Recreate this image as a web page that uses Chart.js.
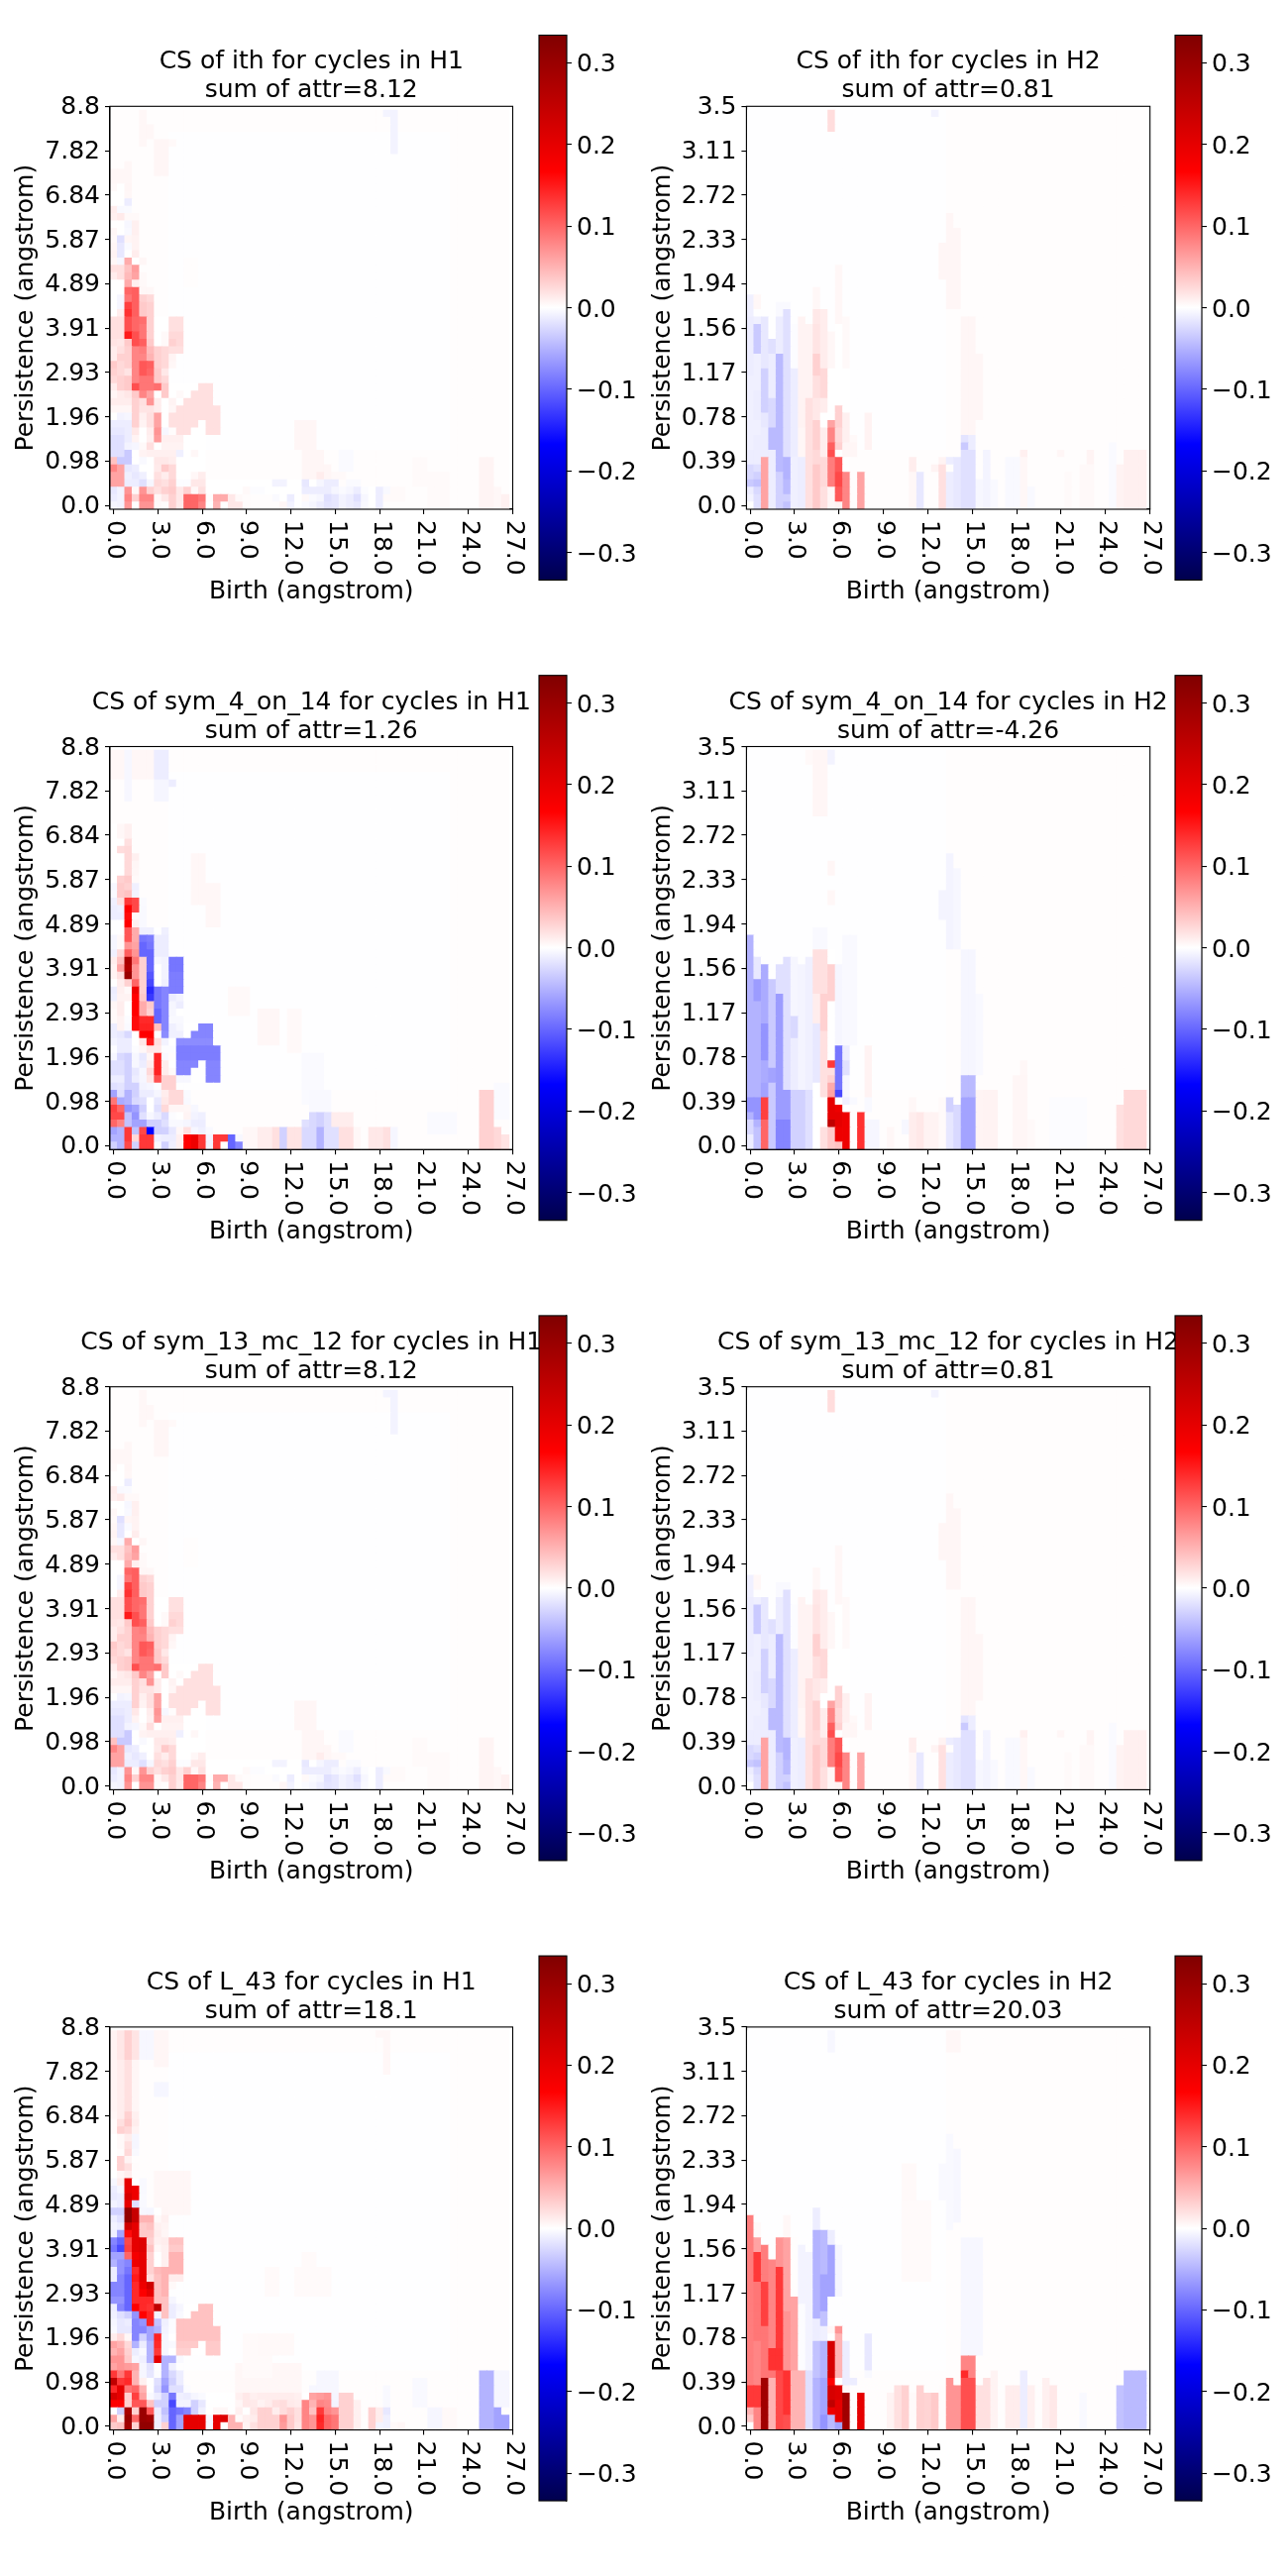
<!DOCTYPE html>
<html><head><meta charset="utf-8">
<script src="https://cdn.jsdelivr.net/npm/chart.js@4/dist/chart.umd.js"></script>
<style>html,body{margin:0;padding:0;background:#fff}#wrap{position:relative;width:1300px;height:2600px;overflow:hidden}canvas{position:absolute}</style>
</head><body><div id="wrap"></div>
<script>
// ---- axis labels ----
const birthLabels=['0.0','3.0','6.0','9.0','12.0','15.0','18.0','21.0','24.0','27.0'];
const persistH1=['0.0','0.98','1.96','2.93','3.91','4.89','5.87','6.84','7.82','8.8'];
const persistH2=['0.0','0.39','0.78','1.17','1.56','1.94','2.33','2.72','3.11','3.5'];
const tickIndex=[0,6,12,18,24,30,36,42,48,54];
const barTicks=[-0.3,-0.2,-0.1,0,0.1,0.2,0.3];
const colorLimit=0.334;
const gridSize=54;
const baseValue=0.001;

// ---- cell values: rects are [colFrom,colTo,rowFrom,rowTo,value]; rows are [row, value at col 0, col 1, ...] (row 0 at the bottom) ----
const ithH1Rects=[
[8,45,8,50,-.0007],[4,4,49,53,.005],[5,5,50,51,.005],[6,7,45,49,.006],[8,8,49,49,.004],[0,2,44,45,.005],[2,2,42,46,.005],
[37,38,53,53,-.007],[38,38,48,53,-.008],
[25,27,8,11,.006],[26,28,6,7,.006],[26,29,4,5,.006],[28,28,4,4,.012],[27,29,3,3,.004],
[31,32,5,7,-.003],[30,31,3,4,.004],
[50,51,0,6,.007],[52,52,0,2,.005],[53,53,0,1,.009],[43,45,0,4,.003],[41,42,3,6,.003],[37,39,1,2,.003],
[10,11,30,33,.001],
];
const ithH1Rows=[
[0,-.006,-.008,.07,0,.07,.07,.004,.002,.03,.014,.1,.1,.08,0,.05,0,.015,.015,.002,.001,.001,.001,.001,.006,-.008,0,-.003,-.006,-.012,-.018,-.016,-.008,-.012,-.015,-.004,0,-.012],
[1,-.012,-.008,.08,.03,.08,.08,.005,.015,.03,.015,.1,.1,.09,.002,.055,.055,.015,.004,.002,.001,.001,.001,-.003,0,-.012,0,.004,-.003,-.006,-.02,-.016,-.008,-.012,-.02,-.005,0,-.012],
[2,-.015,-.008,.07,.005,.07,.03,.02,.03,.035,.015,.03,.005,.02,0,0,0,0,0,.004,-.002,-.002,0,0,0,0,0,-.012,-.012,-.012,-.012,-.006,-.003,-.006,-.012,-.002,0,-.012,-.004],
[3,.06,.06,-.012,-.012,-.02,-.006,.025,.02,.03,-.002,-.002,.015,.015,0,0,0,0,0,0,0,0,0,-.008,-.008,0,0,-.015,0,-.006,-.012,-.012,.002,-.003,-.003],
[4,.06,.06,-.01,-.015,-.01,0,.02,.012,.025,0,0,.005,.012],
[5,.08,.06,-.015,-.012,0,0,.014,.035,.025,0,0,0,0],
[6,.04,-.035,-.035,0,-.004,0,.015,.015,.012,0,0,0,0],
[7,-.02,-.02,-.035,0,.008,.01,.01,.01,.01,-.01,0,.005,0],
[8,-.02,-.02,-.008,-.006,.004,.02,0,.008,.008,.008,0,0,0],
[9,-.02,-.02,-.012,.008,0,.01,.065,.01,.01,.01,0,0,0],
[10,-.015,-.015,-.012,.015,0,.012,.07,-.005,.002,.02,.02,0,0,.02,.02],
[11,-.012,-.012,-.012,.03,.008,.02,.06,0,.02,.02,.02,.02,0,.02,.02],
[12,0,-.008,-.006,.03,.01,.02,.06,0,.02,.02,.02,.02,.02,.02,.02],
[13,.006,.006,.006,.03,.018,.018,.012,0,.006,.02,.02,.02,.02,.02,.02],
[14,.012,.012,.012,.03,.02,.07,.012,0,.008,0,.02,.02,.02,.02],
[15,.006,.012,.016,.035,.08,.06,0,.035,0,.004,0,.02,.02,.02],
[16,.012,.03,.035,.115,.09,.09,.095,.035,0,0,0,0,.02,.02],
[17,.025,.03,.035,.08,.09,.09,.035,.025],
[18,.03,.025,.018,.08,.11,.1,.035,.015],
[19,.035,.025,.03,.08,.11,.105,.03,.025,.005],
[20,.012,.03,.03,.08,.08,.05,.03,.025,.007],
[21,.012,.02,.03,.08,.085,.045,.03,.025,.02,.02],
[22,.018,.016,.035,.115,.105,.035,0,.004,.03,.024],
[23,.02,.02,.15,.115,.09,.03,0,.004,.025,.025],
[24,.02,.02,.115,.1,.09,.03,0,0,.02,.02],
[25,.02,.02,.115,.1,.095,.03,0,0,.02,.02],
[26,0,.012,.135,.105,.035,.03],
[27,0,-.006,.125,.105,.035,.03],
[28,0,-.006,.09,.105,.03,.025],
[29,0,0,.1,.105,.005,.005],
[30,0,0,.055,.01,.004],
[31,.012,.02,.045,.06,.004],
[32,.02,.02,.04,.065],
[33,.005,-.005,.055,0,.006],
[34,.008,-.015,0,.012],
[35,.006,-.015,-.003,.008],
[36,.004,-.02,.006,.008],
[37,.005,0,-.004,.01],
[38,0,0,-.005,.01],
[39,.01,.014,.004,.004],
[40,.012,-.004,-.003],
[41,0,0,-.012],
[42,0,0,.005],
[43,.004,0,.006],
];
const sym4H1Rects=[
[8,45,8,50,-.0007],[0,1,50,53,.005],[3,5,50,53,.005],[2,2,47,53,-.005],[6,7,50,53,-.012],[6,7,47,49,-.006],[8,8,49,49,-.012],
[11,12,33,39,.005],[13,14,30,35,.005],[16,18,18,21,.004],[20,22,14,18,.005],[24,25,13,18,.004],
[26,28,6,12,-.003],[27,29,4,7,-.004],
[43,46,2,4,-.003],[52,53,4,8,-.003],
[18,19,0,2,.005],[20,21,0,2,.012],[22,22,0,2,.02],[23,23,0,2,-.03],[24,25,0,2,.018],[26,27,0,2,-.025],[28,28,0,2,-.05],[29,30,0,2,-.02],
[31,32,0,2,.02],[33,33,0,2,.005],[35,36,0,2,.015],[37,37,0,2,.02],[38,38,0,2,-.006],
[26,26,3,3,-.02],[27,27,3,4,-.025],[28,28,3,4,-.03],[29,29,3,4,-.02],[30,32,3,4,.012],
[50,51,0,7,.03],[52,52,0,2,.025],[53,53,0,1,.018],
];
const sym4H1Rows=[
[0,-.03,-.05,.12,-.03,.13,.13,-.003,-.03,-.01,.01,.167,.19,.13,-.008,.13,0,-.1,-.08],
[1,-.05,-.05,.13,.025,.13,.13,-.01,-.012,-.012,.01,.167,.19,.13,-.008,.13,.13,-.1,-.005],
[2,-.06,-.05,.13,-.04,.12,-.167,-.03,-.03,-.015,.005,.02,-.006,-.01,-.004],
[3,.1,.08,-.04,-.06,-.06,-.03,-.03,-.02,-.004,-.004,-.006,-.012,-.012],
[4,.12,.12,-.04,-.07,-.02,-.005,-.012,-.025,-.002,0,.007,-.008,-.01],
[5,.125,.1,-.07,-.06,-.03,0,-.02,.025,.006,.006,.005,-.005],
[6,.09,-.055,-.05,-.025,-.02,0,-.015,.015,.025,.025,-.004],
[7,-.06,-.02,-.05,-.03,-.012,-.012,-.006,.012,.025,.025,-.003],
[8,-.02,-.018,-.03,-.03,-.008,-.006,-.002,.03,.03],
[9,-.012,-.012,-.03,-.012,-.006,.016,.115,.03,.03,-.005,-.005,0,0,-.08,-.08],
[10,-.02,-.02,-.03,-.015,-.005,.025,.145,.012,.003,-.08,-.08,0,0,-.08,-.08],
[11,-.02,-.02,-.03,-.005,-.012,.012,.145,.012,0,-.08,-.08,-.08,0,-.08,-.08],
[12,-.006,-.025,-.03,-.005,-.015,.006,.145,-.004,.002,-.085,-.085,-.085,-.085,-.085,-.085],
[13,-.002,-.012,-.012,-.002,.005,.015,.015,-.002,-.002,-.085,-.085,-.085,-.085,-.085,-.085],
[14,-.008,-.012,-.012,0,.015,.15,.02,-.008,0,-.075,-.075,-.075,-.075,-.075],
[15,-.012,-.015,-.025,0,.167,.167,0,-.075,-.01,-.01,0,-.08,-.08,-.08],
[16,-.012,.008,-.003,.16,.145,.145,.04,-.08,-.01,-.005,0,0,-.08,-.08],
[17,.004,.008,-.002,.16,.14,.14,-.1,-.08,-.004,-.004],
[18,.004,.012,0,.167,.055,.03,-.1,-.08,-.005,0],
[19,.006,.012,0,.167,.055,.035,-.09,-.08,-.006,-.012],
[20,-.01,.008,.008,.167,.035,-.13,-.09,-.08,-.012,-.007],
[21,-.012,.01,.004,.19,.03,-.14,-.09,-.08,-.085,-.085],
[22,0,.012,.03,.1,.03,-.12,0,-.01,-.085,-.085],
[23,.008,.02,.3,.07,.03,-.11,0,-.008,-.085,-.085],
[24,.008,.06,.27,.07,.03,-.1,0,-.008,-.09,-.09],
[25,.012,.04,.28,.09,.03,-.1,-.006,-.008,-.09,-.09],
[26,-.01,.025,.105,.07,-.1,-.1,-.012,-.012],
[27,-.006,.004,.07,.06,-.1,-.09,-.012,-.012],
[28,-.006,.004,.11,.055,-.09,-.085,-.012,-.012],
[29,0,0,.11,.055,-.01,-.01,0,-.01],
[30,0,0,.167,.01,-.004],
[31,-.012,-.012,.16,.004,-.004],
[32,-.012,-.01,.167,.12,-.004],
[33,-.01,.02,.13,.12,-.003],
[34,-.003,.035,.04,-.008],
[35,-.005,.035,.03,-.01],
[36,0,.03,.035,.003],
[37,0,0,.025,.005],
[38,0,0,.025,.006],
[39,0,0,.025,.01],
[40,0,.022,.025],
[41,0,0,.02],
[42,0,.005,.01],
[43,0,.005,.01],
];
const l43H1Rects=[
[8,45,8,50,-.0007],[0,0,43,53,.007],[1,1,43,53,.012],[2,2,43,53,.02],[3,3,43,53,.006],[0,0,50,53,.008],[1,1,50,53,.016],[2,2,50,53,.03],[3,3,50,53,.018],
[4,5,50,53,-.005],[6,7,49,53,.006],[6,7,45,46,-.006],[37,37,48,53,.005],[36,36,53,53,.005],
[6,10,29,34,.005],[21,22,18,21,.003],[25,29,18,21,.003],[26,27,21,23,.003],
[17,25,5,8,.005],[18,21,7,12,.003],[20,24,10,12,.004],
[27,30,3,5,-.005],[28,30,5,7,-.005],
[31,32,0,4,.03],[33,33,0,3,.01],[35,35,0,2,.03],[36,36,1,2,.012],[36,36,0,0,-.008],[37,37,2,2,-.015],[37,37,0,1,-.01],[37,37,3,5,-.004],[38,38,0,0,.004],[39,39,0,0,.006],
[41,42,3,6,-.004],[43,44,0,2,-.006],[45,46,0,2,.004],
[50,51,0,7,-.05],[52,52,0,2,-.06],[53,53,0,1,-.06],[52,53,3,7,-.006],
];
const l43H1Rows=[
[0,.035,.04,.29,.03,.31,.31,-.01,.03,-.1,-.06,.2,.2,.2,-.006,.2,0,.05,.05,.008,.02,.03,.03,.03,.065,.035,.018,.08,.07,.14,.1,.09],
[1,.06,.012,.3,.1,.3,.29,-.01,-.03,-.1,-.06,.2,.2,.2,-.006,.2,.21,.05,.003,.01,.012,.03,.03,.03,.07,.035,.02,.08,.07,.145,.1,.09],
[2,0,-.03,.28,.03,.3,.11,-.012,-.04,-.1,-.09,-.08,-.03,-.01,0,.005,.005,0,.01,0,.016,.03,.03,.012,.022,.03,.02,.08,.04,.13,.08,.07],
[3,.17,.17,.03,.11,.11,.04,-.03,-.03,-.12,-.008,-.008,-.03,-.015,0,0,0,0,.006,.015,.014,.008,.012,.02,.022,.014,.012,.08,.05,.08,.075,-.007],
[4,.22,.2,.03,.125,.06,-.004,-.012,-.03,-.09,-.01,-.012,-.006,-.003,0,0,0,0,.01,.015,.01,.012,.012,.012,.012,.012,.01,0,.06,.065,.07,-.006],
[5,.14,.2,.09,.1,.05,0,-.025,-.07,-.02,-.02,-.002],
[6,.25,.13,.14,.05,.01,0,-.02,-.06,-.03,-.012],
[7,.13,.09,.13,.05,-.006,-.016,-.002,-.05,-.025,-.012],
[8,.06,.07,.065,.06,-.006,-.018,0,-.05,-.01],
[9,.07,.07,.035,-.006,-.01,-.05,.2,-.05,-.05,-.004],
[10,.05,.06,.03,-.012,-.004,-.05,.13,-.006,0,.03,.03,0,0,.035,.035],
[11,.06,.05,.025,-.05,-.012,-.05,.14,-.006,-.004,.035,.035,.035,0,.035,.035],
[12,.012,.025,.005,-.08,-.03,-.06,.145,-.006,0,.04,.04,.04,.04,.04,.04],
[13,-.004,-.015,-.015,-.08,-.08,-.06,-.05,-.008,-.002,.04,.04,.04,.04,.04,.04],
[14,-.006,-.015,-.012,-.08,-.07,.145,-.04,-.01,-.002,.04,.04,.04,.04,.04],
[15,-.01,-.02,-.03,-.07,.167,.145,-.008,.04,-.012,-.004,0,.04,.04,.04],
[16,-.012,-.08,-.1,.167,.14,.135,.25,.04,-.012,-.006,0,0,.04,.04],
[17,-.07,-.07,-.1,.14,.14,.14,.04,.04,-.006],
[18,-.08,-.08,-.1,.14,.17,.2,.04,.05],
[19,-.08,-.08,-.1,.14,.19,.23,.04,.05,.004],
[20,-.012,-.08,-.1,.15,.2,.02,.04,.05,.012,.012],
[21,-.012,-.07,-.09,.14,.2,.03,.045,.05,.05,.05],
[22,-.05,-.07,-.08,.19,.2,.03,0,.01,.05,.05],
[23,-.06,-.06,.1,.18,.2,.03,0,.01,.05,.05],
[24,-.09,-.12,.125,.2,.21,.04,.005,.01,.035,.035],
[25,-.08,-.1,.12,.2,.21,.03,.01,.012,.04,.04],
[26,-.01,-.06,.16,.2,.035,.035,.012,.006],
[27,-.008,-.012,.23,.2,.035,.04,.01,.007],
[28,-.012,-.02,.31,.24,.05,.05,.004,.01],
[29,-.03,-.03,.31,.24,-.005,-.006,0,.006],
[30,-.008,-.012,.2,-.02,-.004],
[31,-.014,-.012,.22,.19,-.003],
[32,-.012,-.006,.2,.19,-.004],
[33,-.005,.012,.2,0,-.004],
[34,0,.006,.012],
[35,0,.03,.02,.002],
[36,0,.03,.008],
[37,0,.002,.025,-.004],
[38,0,.004,.02,-.006],
[39,0,.004,.012,-.006],
[40,.003,.03,.025,.008],
[41,.003,.02,.035,.012],
[42,.006,.012,.03,.01],
];
const ithH2Rects=[
[0,26,8,53,-.0008],
[0,0,8,28,-.01],[0,0,18,25,-.012],[0,0,6,7,-.012],[0,0,4,5,-.025],[0,0,3,3,-.035],[0,0,2,2,-.012],[0,0,1,1,-.008],[0,0,0,0,0],
[1,1,10,25,-.01],[1,1,12,15,-.012],[1,1,21,24,-.035],[1,1,6,9,-.012],[1,1,5,5,-.02],[1,1,4,4,-.03],[1,1,3,3,-.04],[1,1,2,2,-.025],[1,1,0,1,-.02],[1,1,27,28,.005],
[2,2,0,6,.06],[2,2,7,10,-.012],[2,2,11,12,-.015],[2,2,13,18,-.03],[2,2,19,25,-.015],
[3,3,0,8,-.012],[3,3,8,10,-.045],[3,3,11,14,-.025],[3,3,15,20,-.012],[3,3,21,22,-.02],
[4,4,0,4,-.03],[4,4,5,20,-.045],[4,4,21,25,-.012],[4,4,26,27,-.004],
[5,5,0,0,-.04],[5,5,1,1,-.03],[5,5,2,3,-.045],[5,5,4,6,-.05],[5,5,7,26,-.02],[5,5,27,27,-.004],
[6,6,0,6,-.01],[6,6,7,18,-.012],[6,6,19,24,-.002],
[7,7,0,6,-.012],[7,7,7,10,.006],[7,7,11,25,.008],
[8,8,0,14,.02],[8,8,15,24,.008],
[9,9,0,5,.035],[9,9,6,7,.025],[9,9,8,11,.03],[9,9,12,14,.015],[9,9,15,17,.02],[9,9,18,20,.03],[9,9,21,24,.018],[9,9,25,26,.015],[9,9,27,29,.005],
[10,10,0,2,.02],[10,10,3,6,.025],[10,10,7,10,.012],[10,10,11,12,0],[10,10,13,14,.012],[10,10,15,18,.025],[10,10,19,26,.012],
[11,11,0,2,.006],[11,11,3,6,.085],[11,11,7,7,.115],[11,11,8,8,.105],[11,11,9,10,.08],[11,11,11,11,.06],[11,11,12,18,0],[11,11,19,23,.005],[11,11,51,53,.022],
[12,12,0,0,.008],[12,12,1,2,.11],[12,12,3,4,.12],[12,12,5,6,.11],[12,12,7,7,0],[12,12,8,8,.03],[12,12,9,10,.025],[12,12,11,13,.03],[12,12,14,24,0],[12,12,25,32,.005],
[13,13,0,4,.08],[13,13,5,6,0],[13,13,7,8,.006],[13,13,9,12,.01],[13,13,13,18,0],[13,13,19,25,.004],
[14,14,7,8,.006],[14,14,9,9,.004],[15,15,0,4,.06],[16,16,8,12,.008],
[22,22,0,6,.005],[22,22,5,6,.012],[23,23,0,4,-.015],
[25,25,5,5,.008],[25,25,53,53,-.008],[26,26,0,5,.02],[26,26,6,6,.008],[27,27,0,4,-.012],[27,27,6,6,-.012],
[28,28,0,6,-.015],[29,30,0,7,-.02],[29,29,8,8,-.035],[29,29,9,9,-.018],[30,30,8,9,-.012],
[29,30,10,25,.006],[31,31,12,20,.006],[27,27,27,39,.006],[28,28,27,37,.006],[26,26,31,35,.006],
[31,31,0,3,-.005],[32,32,0,7,-.007],[33,33,0,3,-.004],[35,36,0,6,-.004],[37,37,0,6,.005],[37,37,7,7,.01],[38,38,0,2,-.004],
[43,43,0,4,.003],[42,42,7,7,.006],[45,46,0,5,.004],[46,46,6,7,.007],[49,49,0,8,-.003],[50,50,0,5,.008],[51,53,0,7,.01],
];
const sym4H2Rects=[
[0,26,8,53,-.0008],
[0,0,3,28,-.05],[0,0,5,6,-.07],[0,0,2,3,-.025],[0,0,0,1,-.012],
[1,1,0,2,-.04],[1,1,3,3,-.05],[1,1,4,6,-.07],[1,1,7,19,-.05],[1,1,20,22,-.065],[1,1,23,25,-.015],
[2,2,0,3,.1],[2,2,4,6,.125],[2,2,7,8,-.06],[2,2,9,24,-.055],[2,2,12,16,-.07],
[3,3,0,22,-.035],[3,3,9,10,-.06],
[4,4,0,3,-.08],[4,4,4,20,-.065],[4,4,21,24,-.02],
[5,5,0,3,-.08],[5,5,4,7,-.065],[5,5,8,25,-.02],
[6,6,0,7,-.03],[6,6,8,14,-.012],[6,6,15,17,-.025],[6,6,18,25,-.006],
[7,7,0,7,-.03],[7,7,8,24,-.007],
[8,8,0,7,-.02],[8,8,8,25,-.01],[8,8,52,53,.004],
[9,9,0,8,0],[9,9,9,16,-.015],[9,9,17,20,.012],[9,10,21,26,.02],[9,10,27,29,-.004],
[10,10,0,2,.02],[10,10,3,6,0],[10,10,7,11,.02],[10,10,12,15,.02],[10,10,16,20,.03],
[11,11,0,2,.035],[11,11,3,3,.25],[11,11,4,6,.2],[11,11,7,7,.06],[11,11,8,8,.055],[11,11,9,9,.03],[11,11,10,10,.02],[11,11,11,11,.13],[11,11,12,19,0],[11,11,20,24,.03],[11,11,25,26,0],[11,11,33,34,.005],[11,11,37,38,.006],[11,11,52,53,-.008],
[12,12,0,0,.04],[12,12,1,2,.19],[12,12,3,4,.2],[12,12,5,5,.19],[12,12,6,6,0],[12,12,7,7,-.12],[12,12,8,13,-.09],[12,12,14,24,-.006],
[13,13,0,4,.19],[13,13,5,5,0],[13,13,6,6,-.01],[13,13,7,9,-.005],[13,13,10,11,-.02],[13,13,12,13,-.012],[13,14,14,28,-.004],
[14,14,6,6,-.004],[15,15,0,4,.135],[16,16,0,3,-.006],[16,16,5,6,-.004],[16,16,7,13,.008],[17,17,0,3,-.006],
[19,19,0,2,.005],[21,21,2,3,-.005],[22,22,0,4,.012],[22,22,5,6,.005],[23,23,0,4,.015],[24,25,0,4,.008],[26,26,0,6,.003],
[27,27,0,4,-.016],[27,27,5,6,-.03],[28,28,0,5,-.025],[29,30,0,6,-.06],[29,30,7,9,-.045],[29,30,10,26,-.006],[31,31,10,20,-.004],
[31,31,0,7,.007],[32,33,0,7,.008],[36,37,0,9,.006],[37,37,10,11,.005],[38,38,0,3,.004],
[27,27,27,39,-.007],[28,28,27,37,-.005],[26,26,31,34,-.007],[9,10,45,53,.006],
[41,45,0,6,-.002],[50,50,0,5,.02],[51,53,0,7,.025],
];
const l43H2Rects=[
[0,26,8,53,-.0008],
[0,0,0,0,0],[0,0,1,1,.035],[0,0,2,2,.05],[0,0,3,5,.13],[0,0,6,28,.085],
[1,1,0,2,.08],[1,1,3,5,.13],[1,1,6,11,.08],[1,1,12,19,.09],[1,1,20,23,.13],[1,1,24,25,.06],[1,1,26,27,.004],
[2,2,0,6,.29],[2,2,7,13,.09],[2,2,14,19,.125],[2,2,20,24,.085],
[3,3,0,6,.05],[3,3,7,7,.09],[3,3,8,10,.135],[3,3,11,22,.08],
[4,4,0,7,.12],[4,4,8,10,.135],[4,4,11,21,.13],[4,4,22,25,.07],
[5,5,0,1,.115],[5,5,2,7,.135],[5,5,8,15,.07],[5,5,16,25,.06],[5,5,26,28,.005],
[6,6,0,7,.05],[6,6,8,17,.06],[6,6,18,25,.001],
[7,7,0,7,.05],[7,7,8,16,-.002],[7,7,17,24,-.008],
[8,8,0,7,-.02],[8,8,8,14,-.008],[8,8,15,23,-.008],
[9,9,0,6,-.05],[9,9,7,11,-.04],[9,9,12,14,-.012],[9,9,15,26,-.05],[9,9,27,29,-.012],
[10,10,0,1,-.07],[10,10,2,6,-.06],[10,10,7,11,-.05],[10,10,12,13,-.01],[10,10,14,15,-.04],[10,10,16,20,-.06],[10,10,21,26,-.045],
[11,11,0,1,-.045],[11,11,2,2,.19],[11,11,3,3,.25],[11,11,4,5,.22],[11,11,6,6,.167],[11,11,7,11,.22],[11,11,12,12,0],[11,11,13,13,.005],[11,11,18,24,-.06],[11,11,25,26,-.012],[11,11,51,53,-.005],
[12,12,0,0,-.06],[12,12,1,3,.2],[12,12,4,5,.21],[12,12,6,6,0],[12,12,7,12,.05],[12,12,13,13,.07],[12,12,18,24,-.006],
[13,13,0,4,.29],[13,13,5,5,.005],[13,13,6,11,-.012],[14,14,6,6,-.012],[15,15,0,4,.2],[16,16,7,7,-.004],[16,16,8,12,-.015],
[19,19,0,4,.008],[20,20,0,5,.02],[21,21,0,5,.03],[22,22,0,4,.003],[23,23,0,5,.03],[24,24,0,4,.028],[25,25,0,4,.035],[26,26,0,5,.002],
[27,27,0,6,.07],[28,28,0,5,.07],[29,30,0,6,.115],[29,29,7,7,.14],[30,30,7,7,.08],[29,30,8,9,.08],[29,31,10,25,-.005],
[31,31,0,5,.02],[32,32,0,6,.02],[33,33,0,7,.008],[35,36,0,5,.012],[37,37,0,7,-.012],[38,38,0,5,.01],[40,40,0,6,.01],[41,41,0,5,.015],[45,45,0,4,-.004],
[50,50,0,5,-.04],[51,53,0,7,-.045],
[27,28,51,53,.005],[27,27,27,39,-.004],[28,28,28,37,-.005],[26,26,31,35,-.004],[21,22,23,35,.004],[21,24,20,30,.003],
];
const emptyRows=[];

const panelTitles=['ith','sym_4_on_14','sym_13_mc_12','L_43'];
const sumsH1=[8.12,1.26,8.12,18.1];
const sumsH2=[0.81,-4.26,0.81,20.03];
const rectsH1=[ithH1Rects,sym4H1Rects,ithH1Rects,l43H1Rects];
const rowsH1=[ithH1Rows,sym4H1Rows,ithH1Rows,l43H1Rows];
const rectsH2=[ithH2Rects,sym4H2Rects,ithH2Rects,l43H2Rects];

// ---- layout ----
const rowStep=646.2, axesTop0=107.3, axesH=406.7, canvasH=640;
const colAxes=[[111,517.5],[753.4,1160.7]];
const canvasLeft=[0,643], canvasW=628;
const barX=[[544,572],[1186,1213]], barTop=35.5, barBottom=585.5;
const FONT={family:'"DejaVu Sans"',size:25};
Chart.defaults.color='#000';
Chart.defaults.font.family='"DejaVu Sans"';
Chart.defaults.animation=false;

const stops=[[0,[0,0,77]],[.25,[0,0,255]],[.5,[255,255,255]],[.75,[255,0,0]],[1,[128,0,0]]];
function seismic(v){
  const t=Math.max(0,Math.min(1,(v/colorLimit+1)/2));
  for(let i=1;i<stops.length;i++){
    if(t<=stops[i][0]){
      const f=(t-stops[i-1][0])/(stops[i][0]-stops[i-1][0]);
      const a=stops[i-1][1],b=stops[i][1];
      return `rgb(${a.map((x,k)=>Math.round(x+(b[k]-x)*f)).join(',')})`;
    }
  }
  return 'rgb(128,0,0)';
}
function buildGrid(rects,rows){
  const g=Array.from({length:gridSize},()=>Array(gridSize).fill(baseValue));
  for(const [c0,c1,r0,r1,v] of rects)for(let r=r0;r<=r1;r++)for(let c=c0;c<=c1;c++)g[r][c]=v;
  for(const row of rows){for(let i=1;i<row.length;i++)g[row[0]][i-1]=row[i];}
  return g;
}
const frame={id:'frame',afterDraw(ch){const a=ch.chartArea,c=ch.ctx;c.save();c.strokeStyle='#000';c.lineWidth=1.1;c.strokeRect(a.left,a.top,a.right-a.left,a.bottom-a.top);c.restore();}};
const textMarks={id:'textMarks',afterDraw(ch,args,opts){
  const s=ch.scales.x,c=ch.ctx,a=ch.chartArea;c.save();c.fillStyle='#000';c.font='25px "DejaVu Sans"';c.textAlign='left';c.textBaseline='middle';
  tickIndex.forEach((v,i)=>{c.save();c.translate(s.getPixelForValue(v)+1,a.bottom+11);c.rotate(Math.PI/2);c.fillText(birthLabels[i],0,0);c.restore();});
  c.textAlign='center';
  const m=(a.left+a.right)/2;
  c.fillText(opts.lines[0],m,a.top-44.5);
  c.fillText(opts.lines[1],m,a.top-15.5);
  c.restore();}};

function addCanvas(l,t,w,h){const e=document.createElement('canvas');e.width=w;e.height=h;e.style.left=l+'px';e.style.top=t+'px';e.style.width=w+'px';e.style.height=h+'px';document.getElementById('wrap').appendChild(e);return e;}

function heatmap(col,row,title,sum,grid,yLabels){
  const top=Math.round(rowStep*row), at=axesTop0+rowStep*row-top;
  const cl=canvasLeft[col], aL=colAxes[col][0]-cl, aR=colAxes[col][1]-cl;
  const cols=[...Array(gridSize).keys()];
  const datasets=grid.map((vals,r)=>({
    data:cols.map(c=>({x:c,y:[r-.5,r+.5]})),
    backgroundColor:vals.map(seismic),borderWidth:0,inflateAmount:.4,
    barPercentage:1,categoryPercentage:1,grouped:false}));
  return new Chart(addCanvas(cl,top,canvasW,canvasH),{type:'bar',data:{datasets},plugins:[frame,textMarks],options:{
    responsive:false,
    layout:{padding:{left:0,right:canvasW-aR,top:at,bottom:0}},
    plugins:{legend:{display:false},tooltip:{enabled:false},
      textMarks:{lines:[`CS of ${title} for cycles in ${yLabels===persistH1?'H1':'H2'}`,`sum of attr=${sum}`]}},
    scales:{
      x:{type:'linear',min:-.5,max:54,offset:false,
        grid:{offset:false,drawOnChartArea:false,color:'#000',lineWidth:1.1,tickLength:5},border:{color:'#000',width:1.1},
        ticks:{display:false,autoSkip:false},afterBuildTicks(s){s.ticks=tickIndex.map(v=>({value:v}));},
        afterFit(s){s.height=canvasH-at-axesH;},
        title:{display:true,text:'Birth (angstrom)',color:'#000',font:FONT,padding:{top:0,bottom:27.7}}},
      y:{type:'linear',min:-.5,max:54,
        grid:{drawOnChartArea:false,color:'#000',lineWidth:1.1,tickLength:5},border:{color:'#000',width:1.1},
        ticks:{font:FONT,color:'#000',padding:5,labelOffset:1.5,autoSkip:false,callback:(v)=>yLabels[tickIndex.indexOf(v)]},
        afterBuildTicks(s){s.ticks=tickIndex.map(v=>({value:v}));},
        afterFit(s){s.width=aL;},
        title:{display:true,text:'Persistence (angstrom)',color:'#000',font:FONT,padding:{top:11.5,bottom:0}}}
    }}});
}
function colorbar(col,row){
  const top=Math.round(rowStep*row), off=rowStep*row-top;
  const [bl,br]=barX[col]; const l=bl-4, w=125;
  return new Chart(addCanvas(l,top,w,canvasH),{type:'bar',
    data:{labels:[''],datasets:[{data:[[-colorLimit,colorLimit]],borderWidth:0,barPercentage:1,categoryPercentage:1,
      backgroundColor(ctx){const a=ctx.chart.chartArea;if(!a)return '#fff';const g=ctx.chart.ctx.createLinearGradient(0,a.bottom,0,a.top);stops.forEach(s=>g.addColorStop(s[0],`rgb(${s[1].join(',')})`));return g;}}]},
    plugins:[frame],
    options:{responsive:false,
      layout:{padding:{left:4,right:0,top:barTop+off,bottom:canvasH-barBottom-off}},
      plugins:{legend:{display:false},tooltip:{enabled:false}},
      scales:{x:{display:false,offset:true},
        y:{type:'linear',position:'right',min:-colorLimit,max:colorLimit,
          grid:{drawOnChartArea:false,color:'#000',lineWidth:1.1,tickLength:5},border:{color:'#000',width:1.1},
          ticks:{font:FONT,color:'#000',padding:5,labelOffset:2.5,autoSkip:false,callback:v=>(v<0?'\u2212':'')+Math.abs(v).toFixed(1)},
          afterBuildTicks(s){s.ticks=barTicks.map(v=>({value:v}));},
          afterFit(s){s.width=w-4-(br-bl);}}}}});
}
panelTitles.forEach((t,i)=>{
  heatmap(0,i,t,sumsH1[i],buildGrid(rectsH1[i],rowsH1[i]),persistH1);
  colorbar(0,i);
  heatmap(1,i,t,sumsH2[i],buildGrid(rectsH2[i],emptyRows),persistH2);
  colorbar(1,i);
});
</script></body></html>
